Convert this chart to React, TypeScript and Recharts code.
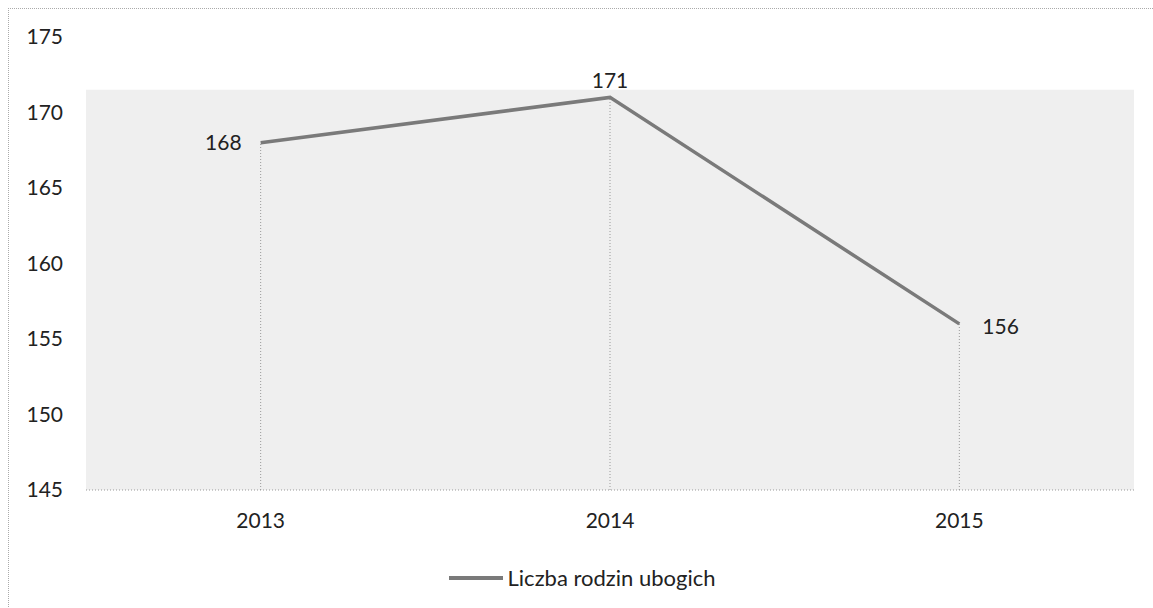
import React from "react";
import {
  LineChart,
  Line,
  XAxis,
  YAxis,
  ReferenceArea,
  ReferenceLine,
  LabelList,
  Legend,
} from "recharts";

const years = ["2013", "2014", "2015"];
const families = [168, 171, 156];
const yTicks = [145, 150, 155, 160, 165, 170, 175];
const seriesName = "Liczba rodzin ubogich";

const data = years.map((year, i) => ({ year, value: families[i] }));

const FONT = "Lato, 'Open Sans', sans-serif";
const FS = 21;
const LINE_COLOR = "#7a7a7a";

// per-point label placement: left, above, right
function PointLabel(props: any) {
  const { x, y, value, index } = props;
  let tx = x;
  let ty = y + 7;
  let anchor: "start" | "middle" | "end" = "middle";
  if (index === 0) {
    tx = x - 19;
    anchor = "end";
  } else if (index === 1) {
    ty = y - 9;
  } else {
    tx = x + 23;
    anchor = "start";
    ty = y + 10;
  }
  return (
    <text x={tx} y={ty} textAnchor={anchor} fontSize={FS} fill="#222" fontFamily={FONT}>
      {value}
    </text>
  );
}

function LegendContent() {
  return (
    <div
      style={{
        display: "flex",
        justifyContent: "center",
        alignItems: "center",
        fontFamily: FONT,
        paddingLeft: 30,
      }}
    >
      <svg width={54} height={10} style={{ marginRight: 5 }}>
        <line x1={0} y1={5} x2={54} y2={5} stroke={LINE_COLOR} strokeWidth={4} />
      </svg>
      <span style={{ fontSize: 22, color: "#222" }}>{seriesName}</span>
    </div>
  );
}

export default function App() {
  return (
    <div style={{ position: "absolute", left: 0, top: 0, width: 1153, height: 608, background: "#fff", overflow: "hidden" }}>
      <div
        style={{
          position: "absolute",
          left: 8,
          top: 8,
          width: 1160,
          height: 620,
          borderTop: "1px dotted #aaa",
          borderLeft: "1px dotted #aaa",
        }}
      />
      <LineChart
        width={1153}
        height={608}
        data={data}
        margin={{ top: 37, right: 19, left: 0, bottom: 61 }}
        style={{ position: "absolute", left: 0, top: 0 }}
      >
        <ReferenceArea y1={145} y2={171.5} fill="#efefef" fillOpacity={1} stroke="none" />
        <XAxis
          dataKey="year"
          scale="band"
          tick={{ fontSize: FS, fill: "#222", fontFamily: FONT }}
          tickLine={false}
          tickSize={0}
          tickMargin={23}
          axisLine={{ stroke: "#999", strokeDasharray: "1 2" }}
        />
        <YAxis
          domain={[145, 175]}
          ticks={yTicks}
          width={86}
          tick={{ fontSize: FS, fill: "#222", fontFamily: FONT }}
          tickLine={false}
          tickSize={0}
          tickMargin={23}
          axisLine={false}
        />
        {data.map((d) => (
          <ReferenceLine
            key={d.year}
            segment={[
              { x: d.year, y: 145 },
              { x: d.year, y: d.value },
            ]}
            stroke="#999"
            strokeDasharray="1 2"
          />
        ))}
        <Line
          dataKey="value"
          name={seriesName}
          stroke={LINE_COLOR}
          strokeWidth={3.5}
          dot={false}
          activeDot={false}
          isAnimationActive={false}
        >
          <LabelList dataKey="value" content={PointLabel} />
        </Line>
        <Legend
          verticalAlign="bottom"
          content={LegendContent}
          wrapperStyle={{ bottom: 17 }}
        />
      </LineChart>
    </div>
  );
}
